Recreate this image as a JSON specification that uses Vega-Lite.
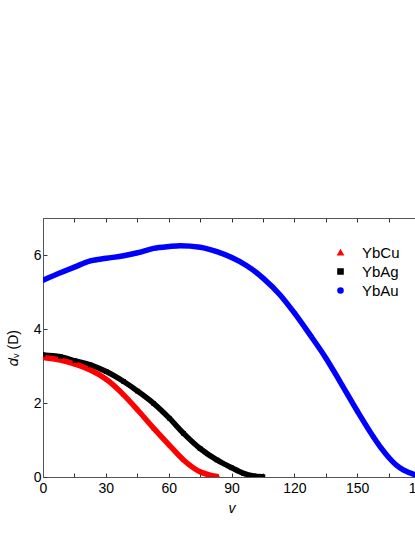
{
  "$schema": "https://vega.github.io/schema/vega-lite/v6.json",
  "autosize": {"type": "none"},
  "padding": {"left": 43, "top": 218, "right": 0, "bottom": 60},
  "width": 372,
  "height": 259,
  "config": {
    "view": {"stroke": null},
    "font": "Liberation Sans",
    "axis": {
      "domainColor": "#555555",
      "domainWidth": 1,
      "tickColor": "#333333",
      "tickSize": -4,
      "labelFontSize": 14,
      "labelColor": "#000000",
      "labelFont": "Liberation Sans",
      "titleFont": "Liberation Sans",
      "titleFontSize": 14,
      "titleFontWeight": "normal",
      "titleColor": "#000000",
      "grid": false,
      "labelFlush": false,
      "labelOverlap": false
    },
    "legend": {"labelFont": "Liberation Sans", "labelFontSize": 15, "labelColor": "#000000"}
  },
  "data": {
    "values": [
      {"s": "YbAu", "v": 0, "d": 5.32},
      {"s": "YbAu", "v": 8.3, "d": 5.52},
      {"s": "YbAu", "v": 15.3, "d": 5.68},
      {"s": "YbAu", "v": 22.6, "d": 5.84},
      {"s": "YbAu", "v": 30.2, "d": 5.91},
      {"s": "YbAu", "v": 38.5, "d": 5.98},
      {"s": "YbAu", "v": 45.2, "d": 6.06},
      {"s": "YbAu", "v": 52.8, "d": 6.18},
      {"s": "YbAu", "v": 60.3, "d": 6.23},
      {"s": "YbAu", "v": 65.5, "d": 6.25},
      {"s": "YbAu", "v": 75, "d": 6.21},
      {"s": "YbAu", "v": 83, "d": 6.09},
      {"s": "YbAu", "v": 90.1, "d": 5.93},
      {"s": "YbAu", "v": 97.3, "d": 5.71},
      {"s": "YbAu", "v": 105.2, "d": 5.37},
      {"s": "YbAu", "v": 113.2, "d": 4.92},
      {"s": "YbAu", "v": 120.2, "d": 4.42},
      {"s": "YbAu", "v": 127.5, "d": 3.84},
      {"s": "YbAu", "v": 135.1, "d": 3.21},
      {"s": "YbAu", "v": 141.8, "d": 2.58},
      {"s": "YbAu", "v": 150.2, "d": 1.77},
      {"s": "YbAu", "v": 157.7, "d": 1.09},
      {"s": "YbAu", "v": 161.5, "d": 0.78},
      {"s": "YbAu", "v": 165.2, "d": 0.52},
      {"s": "YbAu", "v": 168.5, "d": 0.33},
      {"s": "YbAu", "v": 172, "d": 0.19},
      {"s": "YbAu", "v": 176.8, "d": 0.08},
      {"s": "YbAu", "v": 180, "d": 0.04},
      {"s": "YbAg", "v": 0, "d": 3.3},
      {"s": "YbAg", "v": 8.3, "d": 3.25},
      {"s": "YbAg", "v": 15.3, "d": 3.14},
      {"s": "YbAg", "v": 22.6, "d": 3.03},
      {"s": "YbAg", "v": 30.2, "d": 2.85},
      {"s": "YbAg", "v": 38.5, "d": 2.58},
      {"s": "YbAg", "v": 45.2, "d": 2.32},
      {"s": "YbAg", "v": 52.8, "d": 1.99},
      {"s": "YbAg", "v": 60.3, "d": 1.59},
      {"s": "YbAg", "v": 67.1, "d": 1.18},
      {"s": "YbAg", "v": 75, "d": 0.77},
      {"s": "YbAg", "v": 83, "d": 0.46},
      {"s": "YbAg", "v": 90.1, "d": 0.25},
      {"s": "YbAg", "v": 95.7, "d": 0.1},
      {"s": "YbAg", "v": 100.5, "d": 0.03},
      {"s": "YbAg", "v": 105, "d": 0.01},
      {"s": "YbCu", "v": 0, "d": 3.23},
      {"s": "YbCu", "v": 8.3, "d": 3.16},
      {"s": "YbCu", "v": 15.3, "d": 3.05},
      {"s": "YbCu", "v": 22.6, "d": 2.89},
      {"s": "YbCu", "v": 30.2, "d": 2.64},
      {"s": "YbCu", "v": 38.5, "d": 2.22},
      {"s": "YbCu", "v": 45.2, "d": 1.81},
      {"s": "YbCu", "v": 52.8, "d": 1.32},
      {"s": "YbCu", "v": 60.3, "d": 0.86},
      {"s": "YbCu", "v": 67.1, "d": 0.46},
      {"s": "YbCu", "v": 75, "d": 0.14},
      {"s": "YbCu", "v": 79.8, "d": 0.05},
      {"s": "YbCu", "v": 83.8, "d": 0.01}
    ]
  },
  "layer": [
    {
      "mark": {"type": "line", "strokeWidth": 5.5, "interpolate": "monotone", "clip": true},
      "encoding": {
        "x": {
          "field": "v", "type": "quantitative",
          "scale": {"domain": [0, 180], "range": [0, 377], "nice": false},
          "axis": {
            "orient": "bottom",
            "values": [0, 15, 30, 45, 60, 75, 90, 105, 120, 135, 150, 165, 180],
            "labelExpr": "datum.value % 30 === 0 ? datum.label : ''",
            "labelPadding": 8,
            "title": "v",
            "titleFontStyle": "italic",
            "titlePadding": 6
          }
        },
        "y": {
          "field": "d", "type": "quantitative",
          "scale": {"domain": [0, 7], "nice": false},
          "axis": {
            "values": [0, 1, 2, 3, 4, 5, 6, 7],
            "labelExpr": "datum.value % 2 === 0 ? datum.label : ''",
            "labelPadding": 6,
            "title": "𝑑ᵥ (D)",
            "titlePadding": 13
          }
        },
        "color": {
          "field": "s", "type": "nominal",
          "scale": {"domain": ["YbCu", "YbAg", "YbAu"], "range": ["#ff0000", "#000000", "#0000ff"]}
        }
      }
    },
    {
      "mark": {"type": "point", "filled": true, "size": 22, "opacity": 1, "clip": true},
      "encoding": {
        "x": {
          "field": "v", "type": "quantitative",
          "scale": {"domain": [0, 180], "range": [0, 377], "nice": false},
          "axis": {
            "orient": "top",
            "values": [0, 15, 30, 45, 60, 75, 90, 105, 120, 135, 150, 165, 180],
            "labels": false,
            "title": null
          }
        },
        "y": {"field": "d", "type": "quantitative"},
        "color": {
          "field": "s", "type": "nominal",
          "legend": {
            "title": null,
            "orient": "none",
            "legendX": 290,
            "legendY": 27,
            "symbolSize": 26,
            "rowPadding": 3,
            "labelOffset": 14,
            "labelFontSize": 15
          }
        },
        "shape": {
          "field": "s", "type": "nominal",
          "scale": {"domain": ["YbCu", "YbAg", "YbAu"], "range": ["triangle-up", "square", "circle"]},
          "legend": {
            "title": null,
            "orient": "none",
            "legendX": 290,
            "legendY": 27,
            "symbolSize": 26,
            "rowPadding": 3,
            "labelOffset": 14,
            "labelFontSize": 15
          }
        }
      }
    }
  ],
  "resolve": {"axis": {"x": "independent"}}
}
